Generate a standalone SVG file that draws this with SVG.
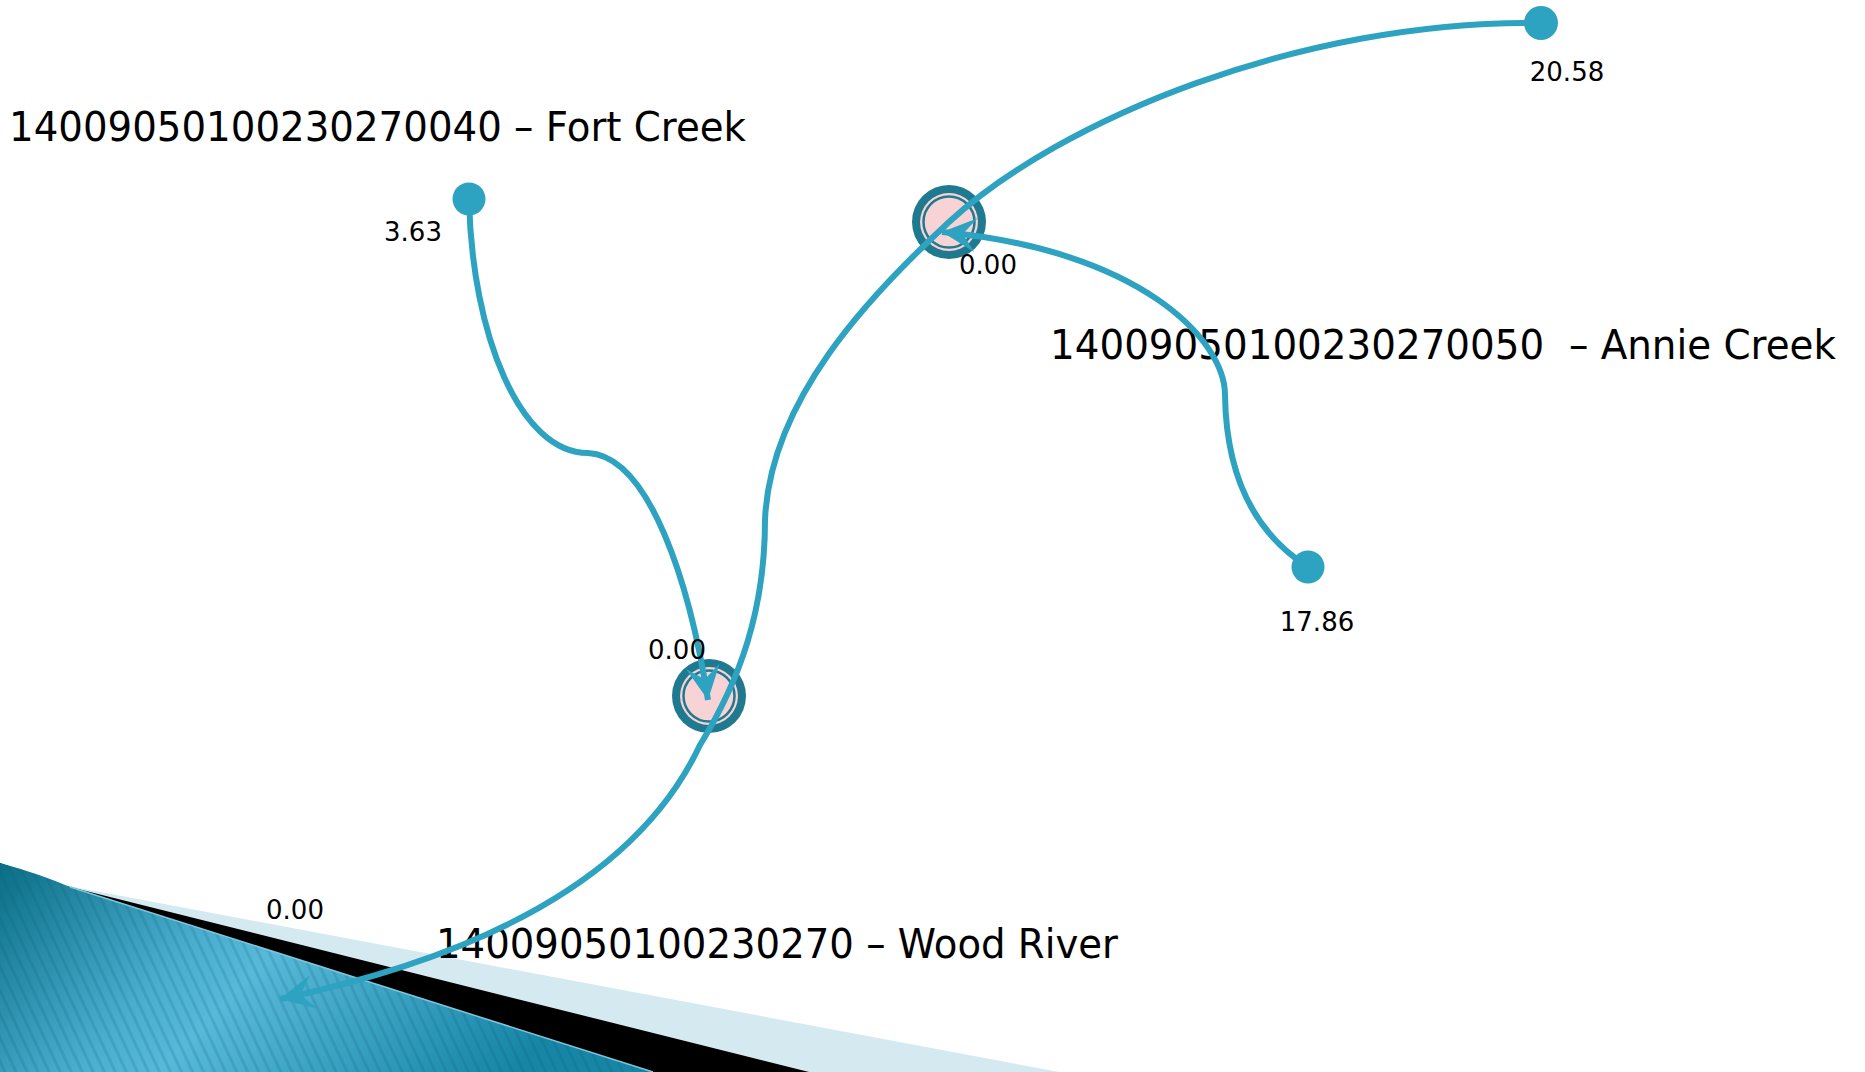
<svg xmlns="http://www.w3.org/2000/svg" width="1865" height="1072" viewBox="0 0 1865 1072">
  <style>
    .edge { fill: none; stroke: #2ea3c1; stroke-width: 6; }
    .src { fill: #2ea3c1; }
    .big { font-family: "DejaVu Sans", "Liberation Sans", sans-serif; font-size: 40px; fill: #000; }
    .val { font-family: "DejaVu Sans", "Liberation Sans", sans-serif; font-size: 26px; fill: #000; text-anchor: middle; }
    .jo { fill: #1f7a8f; }
    .jp { fill: #f8d3d5; }
    .ji { fill: #f8d3d5; stroke: #1f7a8f; stroke-width: 2.5; }
  </style>
  <defs>
    <marker id="arr" markerUnits="userSpaceOnUse" markerWidth="40" markerHeight="40" viewBox="-36 -20 40 40" refX="0" refY="0" orient="auto">
      <path d="M0,0 L-34,-17 L-21,0 L-34,17 Z" fill="#2ea3c1"/>
    </marker>
    <linearGradient id="wg" x1="0" y1="0" x2="1" y2="0.3">
      <stop offset="0" stop-color="#0b6e86"/>
      <stop offset="0.38" stop-color="#4aaed0"/>
      <stop offset="0.5" stop-color="#58b9d9"/>
      <stop offset="1" stop-color="#1685a6"/>
    </linearGradient>
    <pattern id="stripes" patternUnits="userSpaceOnUse" width="10" height="10" patternTransform="rotate(-25)">
      <rect x="0" y="0" width="3" height="10" fill="#0a5f75" fill-opacity="0.18"/>
    </pattern>
  </defs>

  <rect width="1865" height="1072" fill="#fff"/>

  <g id="background">
    <path d="M0,863 L58,884 L1059,1072 L0,1072 Z" fill="#d5e9f0"/>
    <path d="M0,863 L58,884 L809,1072 L0,1072 Z" fill="#000"/>
    <path d="M0,863 Q40,874 70,887 L653,1072 L0,1072 Z" fill="url(#wg)"/>
    <path d="M0,863 Q40,874 70,887 L653,1072 L0,1072 Z" fill="url(#stripes)"/>
    <path d="M70,887 L653,1072" stroke="#7fc6dd" stroke-width="1.5" fill="none"/>
  </g>

  <g id="labels">
    <text class="big" x="9" y="141" textLength="737" lengthAdjust="spacingAndGlyphs">14009050100230270040 – Fort Creek</text>
    <text class="big" x="1050" y="359" textLength="786" lengthAdjust="spacingAndGlyphs" xml:space="preserve">14009050100230270050  – Annie Creek</text>
    <text class="big" x="436" y="958" textLength="682" lengthAdjust="spacingAndGlyphs">14009050100230270 – Wood River</text>
  </g>

  <g id="node-junction-upper">
    <circle class="jo" cx="949" cy="222" r="37"/>
    <circle class="jp" cx="949" cy="222" r="29"/>
    <circle class="ji" cx="949" cy="222" r="25.5"/>
  </g>
  <g id="node-junction-lower">
    <circle class="jo" cx="709" cy="696" r="37"/>
    <circle class="jp" cx="709" cy="696" r="29"/>
    <circle class="ji" cx="709" cy="696" r="25.5"/>
  </g>
  <g id="node-src-2058">
    <circle class="src" cx="1541" cy="23" r="17"/>
  </g>
  <g id="node-src-363">
    <circle class="src" cx="469" cy="199" r="16.5"/>
  </g>
  <g id="node-src-1786">
    <circle class="src" cx="1308" cy="567" r="16.5"/>
  </g>

  <g id="connectors">
    <path class="edge" d="M1540,23 C1300,20 1060,120 949,222 C869,296 770,400 765,520 C765,610 740,680 700,745 C660,830 560,940 280,999" marker-end="url(#arr)"/>
    <path class="edge" d="M469,199 C472,335 520,453 588,453 C650,456 690,585 708,700" marker-end="url(#arr)"/>
    <path class="edge" d="M1308,567 C1250,530 1226,470 1225,395 C1225,340 1140,250 942,232" marker-end="url(#arr)"/>
  </g>

  <g id="values">
    <text class="val" x="1567" y="81">20.58</text>
    <text class="val" x="413" y="241">3.63</text>
    <text class="val" x="1317" y="631">17.86</text>
    <text class="val" x="988" y="274">0.00</text>
    <text class="val" x="677" y="659">0.00</text>
    <text class="val" x="295" y="919">0.00</text>
  </g>
</svg>
